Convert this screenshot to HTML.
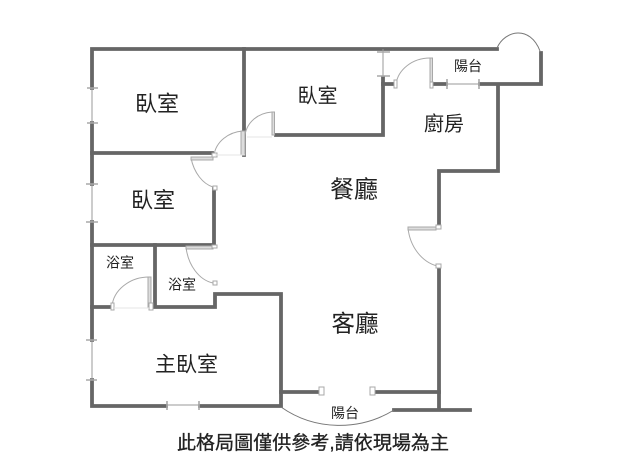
<!DOCTYPE html>
<html><head><meta charset="utf-8"><style>
html,body{margin:0;padding:0;background:#fff;overflow:hidden}
svg{display:block;filter:blur(.35px)}
text{font-family:"Liberation Sans","Noto Sans CJK TC",sans-serif;fill:#222;text-anchor:middle;dominant-baseline:central}
</style></head><body>
<svg width="640" height="461" viewBox="0 0 640 461" xmlns="http://www.w3.org/2000/svg">
<rect width="640" height="461" fill="#fff"/>
<g fill="none" stroke="#666" stroke-width="3.8" stroke-linecap="square">
<path d="M92 88V49H497"/>
<path d="M92 123V184M92 222V340M92 380V406H166M200 406H281V294H215V307H155V245"/>
<path d="M92 153H212M92 245H214V189M244 49V155M276 135H383V78"/>
<path d="M383 84H394M434 84H446M480 84H541V53M498 84V171H439V225M439 268V410M394 410H470"/>
<path d="M281 392H318M376 392H439M92 307H110"/>
</g>
<g fill="none" stroke="#a8a8a8" stroke-width="1">
<path d="M92 88V123M92 184V222M92 340V380M167 405H199M383 49V77M447 84H479" stroke="#999"/>
<path d="M87 88H98M87 123H98M86 184H98M86 222H98M86 340H97M86 380H97M377 52H390M377 76H390" stroke-width="1.6"/>
<path d="M167 401V410M199 401V410M447 79V89M479 79V89" stroke-width="1.6"/>
<path d="M497 48C505 30 530 25 540 51" stroke="#777"/>
<path d="M281 407C315 431 360 431 394 410" stroke="#777"/>
<path d="M430 58C412 58 398 70 396 84M272 112C258 113 247 122 245 135M243 131C228 132 216 142 214 155M191 158C194 173 203 184 213 187M186 247C188 265 199 280 213 283M149 277C130 277 113 290 112 307M408 228C410 247 422 262 437 266"/>
<path d="M430 58H432.500V84H430ZM272 112H274.500V135H272ZM241 131H245V155H241ZM191 157H213V160H191ZM186 246H213V249H186ZM148 277H151V307H148ZM408 227H436V230H408Z" fill="#ddd"/>
<path d="M319 387H324V395H319ZM370 387H375V395H370ZM394 80H397V88H394ZM430 82H433V88H430ZM111 303H114V310H111ZM149 303H153V310H149ZM212 153H217V157H212ZM213 186H217V190H213ZM212 245H217V248H212ZM213 281H217V285H213ZM436 225H441V229H436ZM436 264H441V268H436Z" fill="#fff"/>
<path d="M215 155H245M247 137H272M114 308H149" stroke="#e4e4e4"/>
</g>
<text x="157" y="104" font-size="22">臥室</text>
<text x="317.500" y="96.500" font-size="20">臥室</text>
<text x="153" y="200.500" font-size="22">臥室</text>
<text x="354" y="190" font-size="24">餐廳</text>
<text x="444" y="124.500" font-size="20">廚房</text>
<text x="468" y="66" font-size="14">陽台</text>
<text x="120" y="262.500" font-size="14">浴室</text>
<text x="182" y="284.500" font-size="14">浴室</text>
<text x="186.500" y="365" font-size="21">主臥室</text>
<text x="355" y="323.500" font-size="23.500">客廳</text>
<text x="345" y="413" font-size="14">陽台</text>
<text x="313" y="443.500" font-size="19" style="stroke:#222;stroke-width:.3" textLength="272" lengthAdjust="spacing">此格局圖僅供參考,請依現場為主</text>
</svg>
</body></html>
